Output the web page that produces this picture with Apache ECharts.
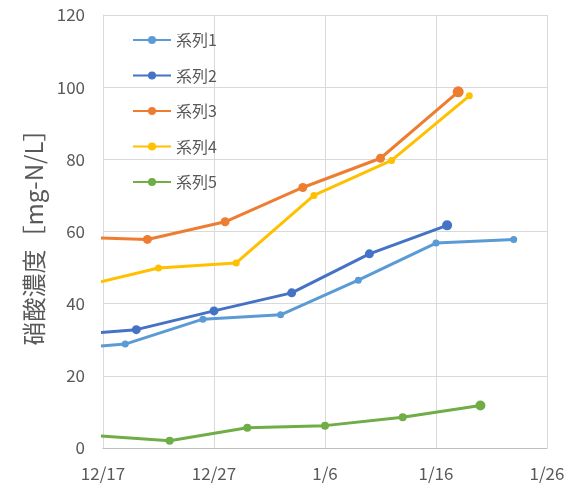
<!DOCTYPE html>
<html><head><meta charset="utf-8">
<script src="https://cdn.jsdelivr.net/npm/echarts@6/dist/echarts.min.js"></script>
<style>html,body{margin:0;padding:0;background:#fff}#c{width:579px;height:486px}</style>
</head><body><div id="c"></div>
<script>
const seriesNames = ['系列1','系列2','系列3','系列4','系列5'];
const dates1 = ['2023-12-12','2023-12-19','2023-12-26','2024-01-02','2024-01-09','2024-01-16','2024-01-23'];
const values1 = [27.0, 28.8, 35.7, 36.9, 46.5, 56.8, 57.8];
const dates2 = ['2023-12-13','2023-12-20','2023-12-27','2024-01-03','2024-01-10','2024-01-17'];
const values2 = [31.0, 32.8, 38.0, 43.0, 53.8, 61.7];
const dates3 = ['2023-12-14','2023-12-21','2023-12-28','2024-01-04','2024-01-11','2024-01-18'];
const values3 = [58.5, 57.8, 62.7, 72.2, 80.3, 98.7];
const dates4 = ['2023-12-15','2023-12-22','2023-12-29','2024-01-05','2024-01-12','2024-01-19'];
const values4 = [44.7, 49.9, 51.3, 70.0, 79.7, 97.6];
const dates5 = ['2023-12-16','2023-12-23','2023-12-30','2024-01-06','2024-01-13','2024-01-20'];
const values5 = [3.5, 2.0, 5.6, 6.2, 8.5, 11.8];
const axisStart = '2023-12-17';
const axisEnd = '2024-01-26';
const yTicks = [0, 20, 40, 60, 80, 100, 120];

const DAY = 86400000;
function ts(s){ const p = s.split('-').map(Number); return Date.UTC(p[0], p[1]-1, p[2]); }
const base = ts(axisStart);
function off(s){ return Math.round((ts(s) - base) / DAY); }
function pairs(d, v){ return d.map((x,i)=>[off(x), v[i]]); }

const colors = ['#5B9BD5','#4472C4','#ED7D31','#FFC000','#70AD47'];
const allDates = [dates1,dates2,dates3,dates4,dates5];
const allVals = [values1,values2,values3,values4,values5];
const baseSizes = [7, 9, 9, 7, 8];
const lastSizes = [7, 10, 11, 7, 10];

const font = '"Noto Sans CJK JP", "Noto Sans", sans-serif';
const chart = echarts.init(document.getElementById('c'), null, {renderer:'canvas'});
chart.setOption({
  animation: false,
  color: colors,
  textStyle: { fontFamily: font },
  grid: { left: 103, right: 32, top: 15, bottom: 38, containLabel: false },
  legend: {
    orient: 'vertical', left: 127, top: 27, itemWidth: 38, itemHeight: 10, itemGap: 19.5,
    data: seriesNames,
    textStyle: { color: '#595959', fontSize: 16, fontFamily: font }
  },
  xAxis: {
    type: 'value', min: 0, max: off(axisEnd), interval: 10,
    axisLine: { show: true, lineStyle: { color: '#bfbfbf', width: 1 } },
    axisTick: { show: false },
    splitLine: { show: true, lineStyle: { color: '#d9d9d9', width: 1 } },
    axisLabel: {
      color: '#595959', fontSize: 17, margin: 17, fontFamily: font,
      formatter: function(v){ const d = new Date(base + v*DAY); return (d.getUTCMonth()+1) + '/' + d.getUTCDate(); }
    }
  },
  yAxis: {
    type: 'value', min: yTicks[0], max: yTicks[yTicks.length-1], interval: 20,
    name: '硝酸濃度［mg-N/L］', nameLocation: 'middle', nameGap: 53,
    nameTextStyle: { color: '#595959', fontSize: 24, fontFamily: font },
    axisLine: { show: true, lineStyle: { color: '#d9d9d9', width: 1 } },
    axisTick: { show: false },
    splitLine: { show: true, lineStyle: { color: '#d9d9d9', width: 1 } },
    axisLabel: { color: '#595959', fontSize: 17, margin: 18, fontFamily: font }
  },
  series: seriesNames.map((n, i) => ({
    name: n, type: 'line', clip: true,
    data: pairs(allDates[i], allVals[i]),
    symbol: 'circle',
    symbolSize: function(val, p){ return p.dataIndex === allVals[i].length - 1 ? lastSizes[i] : baseSizes[i]; },
    lineStyle: { width: 3, color: colors[i] },
    itemStyle: { color: colors[i] },
    z: 10 - i
  }))
});
</script></body></html>
